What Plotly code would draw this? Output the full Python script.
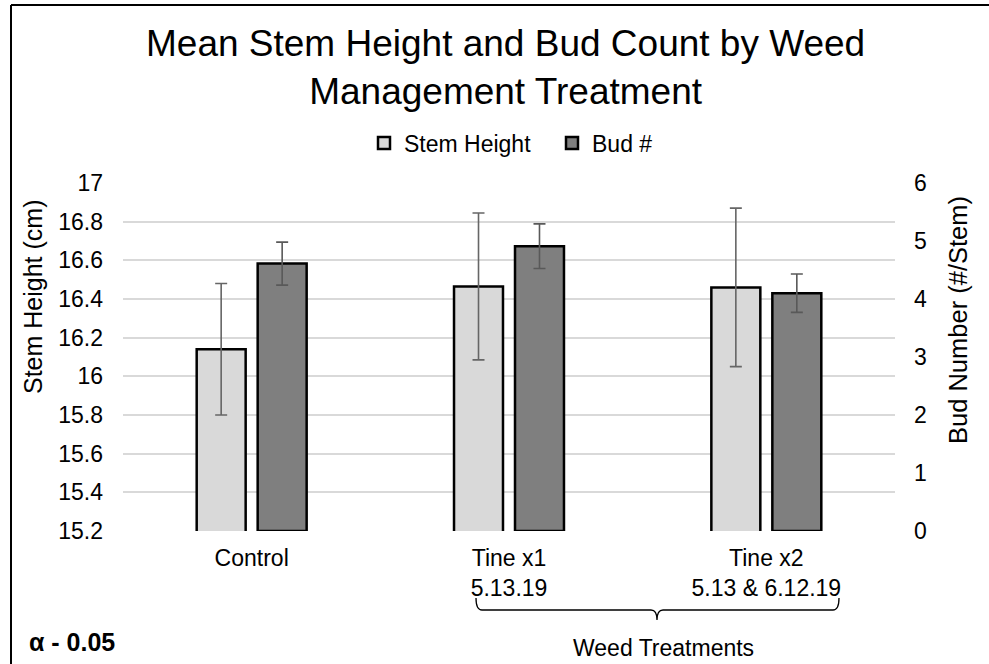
import plotly.graph_objects as go

categories = ["Control", "Tine x1<br>5.13.19", "Tine x2<br>5.13 & 6.12.19"]
stem_height = [16.14, 16.465, 16.46]
stem_err = [0.34, 0.38, 0.41]
bud_count = [4.61, 4.91, 4.10]
bud_err = [0.37, 0.385, 0.33]
left_ticks = [15.2, 15.4, 15.6, 15.8, 16, 16.2, 16.4, 16.6, 16.8, 17]
left_tick_text = ["15.2", "15.4", "15.6", "15.8", "16", "16.2", "16.4", "16.6", "16.8", "17"]
right_ticks = [0, 1, 2, 3, 4, 5, 6]

W, H = 989, 664
ML, MR, MT, MB = 123, 94, 183, 133
PW, PH = W - ML - MR, H - MT - MB


def px(x):
    return (x - ML) / PW


def py(y):
    return (H - MB - y) / PH


FONT = "Arial, Liberation Sans, sans-serif"
TXT = "#000000"

fig = go.Figure()
fig.add_trace(go.Bar(
    name="Stem Height", x=categories, y=stem_height, yaxis="y", offsetgroup="1",
    marker=dict(color="#d9d9d9", line=dict(color="#000000", width=2.5)),
    error_y=dict(type="data", array=stem_err, color="#666666", thickness=1.6, width=6),
))
fig.add_trace(go.Bar(
    name="Bud #", x=categories, y=bud_count, yaxis="y2", offsetgroup="2",
    marker=dict(color="#7f7f7f", line=dict(color="#000000", width=2.5)),
    error_y=dict(type="data", array=bud_err, color="#595959", thickness=1.6, width=6),
))

fig.update_layout(
    width=W, height=H,
    margin=dict(l=ML, r=MR, t=MT, b=MB),
    paper_bgcolor="white", plot_bgcolor="white",
    font=dict(family=FONT, size=23, color=TXT),
    barmode="group", bargap=0.526, bargroupgap=0.197,
    legend=dict(orientation="h", x=px(364), xanchor="left", y=py(143), yanchor="middle",
                font=dict(size=23, color=TXT), bgcolor="rgba(0,0,0,0)", traceorder="normal",
                entrywidth=143, entrywidthmode="pixels", itemwidth=30),
    xaxis=dict(showgrid=False, zeroline=False, showline=False, ticks="",
               tickfont=dict(size=23, color=TXT), ticklabelstandoff=11),
    yaxis=dict(range=[15.2, 17], tickvals=left_ticks, ticktext=left_tick_text,
               showgrid=True, gridcolor="#d9d9d9", gridwidth=1.5, zeroline=False,
               showline=False, ticks="", tickfont=dict(size=23, color=TXT),
               ticklabelstandoff=19),
    yaxis2=dict(range=[0, 6], tickvals=right_ticks, overlaying="y", side="right",
                showgrid=False, zeroline=False, showline=False, ticks="",
                tickfont=dict(size=23, color=TXT), ticklabelstandoff=18),
    showlegend=True,
)

# title (two lines)
fig.add_annotation(text="Mean Stem Height and Bud Count by Weed<br>Management Treatment",
                   xref="paper", yref="paper", x=px(505), y=py(67), showarrow=False,
                   xanchor="center", yanchor="middle", font=dict(size=37, color=TXT))

# chart border (top and left edges visible)
fig.add_shape(type="line", xref="paper", yref="paper", x0=px(11), x1=px(1100),
              y0=py(5), y1=py(5), line=dict(color="#000000", width=2))
fig.add_shape(type="line", xref="paper", yref="paper", x0=px(11), x1=px(11),
              y0=py(5), y1=py(700), line=dict(color="#000000", width=2))

# brace under the weed treatments
brace = (f"M {px(476)},{py(598)} Q {px(476)},{py(610)} {px(482)},{py(610)} "
         f"L {px(651)},{py(610)} Q {px(657)},{py(610)} {px(657)},{py(620)} "
         f"Q {px(657)},{py(610)} {px(663)},{py(610)} "
         f"L {px(833)},{py(610)} Q {px(839)},{py(610)} {px(839)},{py(598)}")
fig.add_shape(type="path", xref="paper", yref="paper", path=brace,
              line=dict(color="#000000", width=1.3))

fig.add_annotation(text="Weed Treatments", xref="paper", yref="paper", x=px(663), y=py(648),
                   showarrow=False, xanchor="center", yanchor="middle", font=dict(size=23, color=TXT))
fig.add_annotation(text="<b>α - 0.05</b>", xref="paper", yref="paper", x=px(27), y=py(642),
                   showarrow=False, xanchor="left", yanchor="middle", font=dict(size=25, color=TXT))
fig.add_annotation(text="Stem Height (cm)", xref="paper", yref="paper", x=px(33), y=py(297),
                   showarrow=False, textangle=-90, xanchor="center", yanchor="middle",
                   font=dict(size=25, color=TXT))
fig.add_annotation(text="Bud Number (#/Stem)", xref="paper", yref="paper", x=px(958), y=py(320),
                   showarrow=False, textangle=-90, xanchor="center", yanchor="middle",
                   font=dict(size=25.5, color=TXT))

fig.write_html("out.html", config={"displayModeBar": False},
               post_script="document.body.style.margin='0';document.body.style.overflow='hidden';")
